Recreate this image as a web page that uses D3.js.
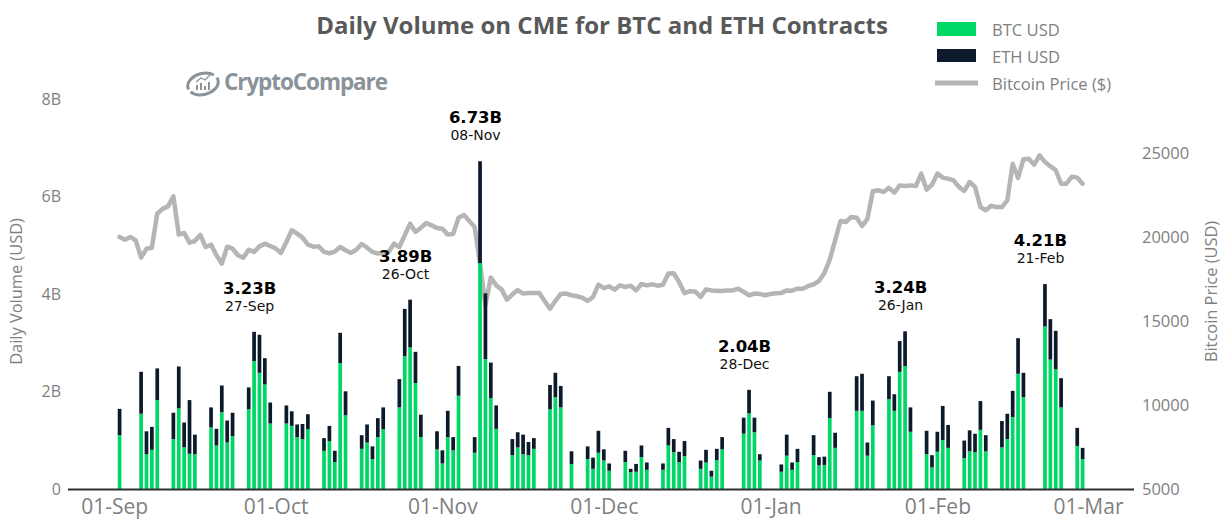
<!DOCTYPE html>
<html>
<head>
<meta charset="utf-8">
<script src="https://cdn.jsdelivr.net/npm/d3@7"></script>
<style>
html,body{margin:0;padding:0;background:#fff;overflow:hidden}
svg{display:block}
</style>
</head>
<body>
<svg id="chart" width="1228" height="520"></svg>
<script>
const chartTitle = "Daily Volume on CME for BTC and ETH Contracts";
const tradingDays = ["2022-09-02","2022-09-06","2022-09-07","2022-09-08","2022-09-09","2022-09-12","2022-09-13","2022-09-14","2022-09-15","2022-09-16","2022-09-19","2022-09-20","2022-09-21","2022-09-22","2022-09-23","2022-09-26","2022-09-27","2022-09-28","2022-09-29","2022-09-30","2022-10-03","2022-10-04","2022-10-05","2022-10-06","2022-10-07","2022-10-10","2022-10-11","2022-10-12","2022-10-13","2022-10-14","2022-10-17","2022-10-18","2022-10-19","2022-10-20","2022-10-21","2022-10-24","2022-10-25","2022-10-26","2022-10-27","2022-10-28","2022-10-31","2022-11-01","2022-11-02","2022-11-03","2022-11-04","2022-11-07","2022-11-08","2022-11-09","2022-11-10","2022-11-11","2022-11-14","2022-11-15","2022-11-16","2022-11-17","2022-11-18","2022-11-21","2022-11-22","2022-11-23","2022-11-25","2022-11-28","2022-11-29","2022-11-30","2022-12-01","2022-12-02","2022-12-05","2022-12-06","2022-12-07","2022-12-08","2022-12-09","2022-12-12","2022-12-13","2022-12-14","2022-12-15","2022-12-16","2022-12-19","2022-12-20","2022-12-21","2022-12-22","2022-12-23","2022-12-27","2022-12-28","2022-12-29","2022-12-30","2023-01-03","2023-01-04","2023-01-05","2023-01-06","2023-01-09","2023-01-10","2023-01-11","2023-01-12","2023-01-13","2023-01-17","2023-01-18","2023-01-19","2023-01-20","2023-01-23","2023-01-24","2023-01-25","2023-01-26","2023-01-27","2023-01-30","2023-01-31","2023-02-01","2023-02-02","2023-02-03","2023-02-06","2023-02-07","2023-02-08","2023-02-09","2023-02-10","2023-02-13","2023-02-14","2023-02-15","2023-02-16","2023-02-17","2023-02-21","2023-02-22","2023-02-23","2023-02-24","2023-02-27","2023-02-28"];
const btcUsd = [1.11,1.55,0.72,0.81,1.83,1.03,1.66,0.86,0.73,0.72,1.27,0.90,1.58,0.96,1.09,1.64,2.63,2.39,2.15,1.35,1.35,1.30,1.07,1.03,1.23,0.79,0.99,0.56,2.59,1.52,0.83,0.96,0.62,1.07,1.23,1.68,2.73,2.91,2.18,1.07,0.82,0.53,1.07,0.80,1.92,0.75,4.64,2.67,1.87,1.24,0.70,0.86,0.72,0.70,0.83,1.64,1.89,1.68,0.52,0.62,0.42,0.75,0.59,0.38,0.56,0.35,0.36,0.66,0.40,0.40,0.90,0.76,0.56,0.68,0.42,0.55,0.26,0.60,0.82,1.14,1.56,1.17,0.59,0.36,0.69,0.40,0.56,0.70,0.49,0.50,1.46,0.85,1.61,1.61,0.69,1.31,1.85,1.61,2.41,2.53,1.18,0.72,0.45,0.77,1.01,0.85,0.64,0.78,0.76,1.22,0.78,0.86,1.03,1.48,2.37,1.89,3.34,2.66,2.46,1.68,0.89,0.62];
const totalUsd = [1.65,2.41,1.19,1.28,2.48,1.57,2.52,1.37,1.83,1.12,1.68,1.24,2.13,1.41,1.57,2.09,3.23,3.17,2.69,1.78,1.72,1.60,1.33,1.34,1.54,1.05,1.30,0.79,3.21,2.01,1.11,1.33,0.88,1.46,1.68,2.26,3.70,3.89,2.82,1.53,1.19,0.80,1.61,1.07,2.53,1.07,6.73,4.02,2.60,1.72,1.03,1.17,1.12,0.97,1.05,2.14,2.39,2.12,0.78,0.88,0.65,1.20,0.82,0.53,0.79,0.42,0.52,0.90,0.55,0.53,1.26,1.03,0.77,0.99,0.59,0.81,0.38,0.83,1.07,1.47,2.04,1.47,0.72,0.51,1.12,0.55,0.83,1.11,0.66,0.67,2.00,1.16,2.32,2.37,0.96,1.82,2.32,1.95,3.04,3.24,1.68,1.20,0.70,1.18,1.71,1.32,1.00,1.21,1.14,1.81,1.11,1.40,1.55,2.02,3.10,2.39,4.21,3.49,3.25,2.28,1.26,0.85];
const priceStart = "2022-09-02";
const bitcoinPrice = [20020,19860,20020,19820,18790,19320,19380,21410,21690,21840,22440,20160,20260,19680,19780,20140,19420,19560,18930,18430,19440,19320,18930,18790,19260,19130,19460,19620,19480,19340,19070,19720,20420,20220,19980,19560,19440,19460,19130,19050,19150,19420,19230,19070,19260,19600,19380,19130,19030,19070,19130,19620,19420,20120,20810,20320,20570,20850,20710,20550,20510,20160,20200,21170,21330,20970,20610,18430,15950,17600,17140,16900,16290,16590,16860,16650,16690,16690,16690,16210,15750,16210,16630,16650,16550,16490,16410,16210,16450,17180,16980,17080,16880,17140,17040,17120,16840,17220,17140,17200,17120,17180,17840,17860,17340,16670,16790,16770,16450,16900,16840,16820,16800,16840,16840,16940,16750,16550,16650,16630,16550,16630,16670,16690,16840,16820,16940,16940,17100,17200,17400,17880,18670,19820,20970,20910,21210,21170,20670,21090,22740,22800,22700,22940,22660,23090,23050,23090,23050,23790,22840,23130,23790,23550,23490,23390,23000,22760,23290,23000,21800,21610,21880,21800,21800,22200,24380,23530,24640,24680,24320,24880,24480,24230,23990,23190,23190,23610,23550,23190];
const peakDays = ["2022-09-27","2022-10-26","2022-11-08","2022-12-28","2023-01-26","2023-02-21"];
const peakLabels = ["3.23B","3.89B","6.73B","2.04B","3.24B","4.21B"];
const peakDates = ["27-Sep","26-Oct","08-Nov","28-Dec","26-Jan","21-Feb"];
const xTicks = ["2022-09-01","2022-10-01","2022-11-01","2022-12-01","2023-01-01","2023-02-01","2023-03-01"];
const volumeTicks = [0,2,4,6,8];
const priceTicks = [5000,10000,15000,20000,25000];
const legendItems = ["BTC USD","ETH USD","Bitcoin Price ($)"];

const GREEN="#00d866", NAVY="#0d1a2b", LINE="#b5b5b5", AXIS="#7f7f7f";
const UI='"Open Sans",sans-serif', ANN='"DejaVu Sans",sans-serif';
const parse=d3.utcParse("%Y-%m-%d");
const svg=d3.select("#chart");
const x=d3.scaleUtc().domain([parse(xTicks[0]),parse(xTicks[6])]).range([114.2,1088]);
const y=d3.scaleLinear().domain([0,8]).range([489.3,99.3]);
const yP=d3.scaleLinear().domain([5000,25000]).range([489.3,153.3]);

// title
svg.append("text").attr("x",602).attr("y",33.5).attr("text-anchor","middle")
  .attr("font-family",UI).attr("font-weight",700).attr("font-size",24).attr("fill","#595959").text(chartTitle);

// logo
const logo=svg.append("g").attr("fill","none").attr("stroke","#8b939a");
logo.append("ellipse").attr("cx",203).attr("cy",84).attr("rx",15.5).attr("ry",10.5)
  .attr("stroke-width",3).attr("transform","rotate(-14 203 84)").attr("stroke-dasharray","36 3 36 4");
logo.append("path").attr("d","M197 90v-5M201 90v-7M205 90v-4M209 90v-8").attr("stroke-width",2);
logo.append("path").attr("d","M196 82l5-4 4 2 5-5").attr("stroke-width",1.3);
svg.append("text").attr("x",224).attr("y",90).attr("font-family",UI).attr("font-weight",700)
  .attr("font-size",22.5).attr("fill","#8b939a").attr("textLength",164).text("CryptoCompare");

// price line (behind bars)
const priceDates=bitcoinPrice.map((_,i)=>d3.utcDay.offset(parse(priceStart),i));
svg.append("path").datum(bitcoinPrice)
  .attr("fill","none").attr("stroke",LINE).attr("stroke-width",4.5).attr("stroke-linejoin","round").attr("stroke-linecap","round")
  .attr("d",d3.line().x((_,i)=>x(priceDates[i])).y(d=>yP(d)));

// stacked bars
const bw=3.7;
const bars=svg.append("g").selectAll("g").data(tradingDays).join("g");
bars.append("rect").attr("x",d=>x(parse(d))-bw/2).attr("width",bw)
  .attr("y",(d,i)=>y(btcUsd[i])).attr("height",(d,i)=>y(0)-y(btcUsd[i])).attr("fill",GREEN);
bars.append("rect").attr("x",d=>x(parse(d))-bw/2).attr("width",bw)
  .attr("y",(d,i)=>y(totalUsd[i])).attr("height",(d,i)=>y(btcUsd[i])-y(totalUsd[i])).attr("fill",NAVY);

// axes
const xAxis=svg.append("g").attr("transform","translate(0,489.3)")
  .call(d3.axisBottom(x).tickValues(xTicks.map(parse)).tickFormat(d3.utcFormat("%d-%b")).tickSize(0).tickPadding(10));
xAxis.select(".domain").remove();
xAxis.selectAll("text").attr("font-family",UI).attr("font-size",21).attr("fill",AXIS);
svg.append("line").attr("x1",68).attr("x2",1134).attr("y1",489.5).attr("y2",489.5).attr("stroke","#2e2e2e").attr("stroke-width",2);

const yAxis=svg.append("g").attr("transform","translate(61,0)")
  .call(d3.axisLeft(y).tickValues(volumeTicks).tickFormat(d=>d?d+"B":"0").tickSize(0).tickPadding(0));
yAxis.select(".domain").remove();
yAxis.selectAll("text").attr("font-family",UI).attr("font-size",16).attr("fill",AXIS);

const pAxis=svg.append("g").attr("transform","translate(1142,0)")
  .call(d3.axisRight(yP).tickValues(priceTicks).tickFormat(d3.format("d")).tickSize(0).tickPadding(0));
pAxis.select(".domain").remove();
pAxis.selectAll("text").attr("font-family",UI).attr("font-size",16.5).attr("fill",AXIS);

svg.append("text").attr("transform","translate(22,291.5) rotate(-90)").attr("text-anchor","middle")
  .attr("font-family",UI).attr("font-size",16.4).attr("fill",AXIS).text("Daily Volume (USD)");
svg.append("text").attr("transform","translate(1217,291.5) rotate(-90)").attr("text-anchor","middle")
  .attr("font-family",UI).attr("font-size",16.4).attr("fill",AXIS).text("Bitcoin Price (USD)");

// annotations
peakDays.forEach((d,i)=>{
  const cx=x(parse(d))-4.5, top=y(totalUsd[tradingDays.indexOf(d)]);
  svg.append("text").attr("x",cx).attr("y",top-38).attr("text-anchor","middle")
    .attr("font-family",ANN).attr("font-weight",700).attr("font-size",16.5).attr("fill","#000").text(peakLabels[i]);
  svg.append("text").attr("x",cx).attr("y",top-21).attr("text-anchor","middle")
    .attr("font-family",ANN).attr("font-size",14).attr("fill","#111").text(peakDates[i]);
});

// legend
const lg=svg.append("g");
lg.append("rect").attr("x",937).attr("y",22).attr("width",39).attr("height",14).attr("fill",GREEN);
lg.append("rect").attr("x",937).attr("y",49).attr("width",39).attr("height",13).attr("fill",NAVY);
lg.append("line").attr("x1",935).attr("x2",978).attr("y1",83).attr("y2",83).attr("stroke",LINE).attr("stroke-width",5);
legendItems.forEach((t,i)=>{
  lg.append("text").attr("x",992).attr("y",[36,62.5,90][i]).attr("font-family",UI)
    .attr("font-size",16.6).attr("fill",AXIS).text(t);
});
</script>
</body>
</html>
